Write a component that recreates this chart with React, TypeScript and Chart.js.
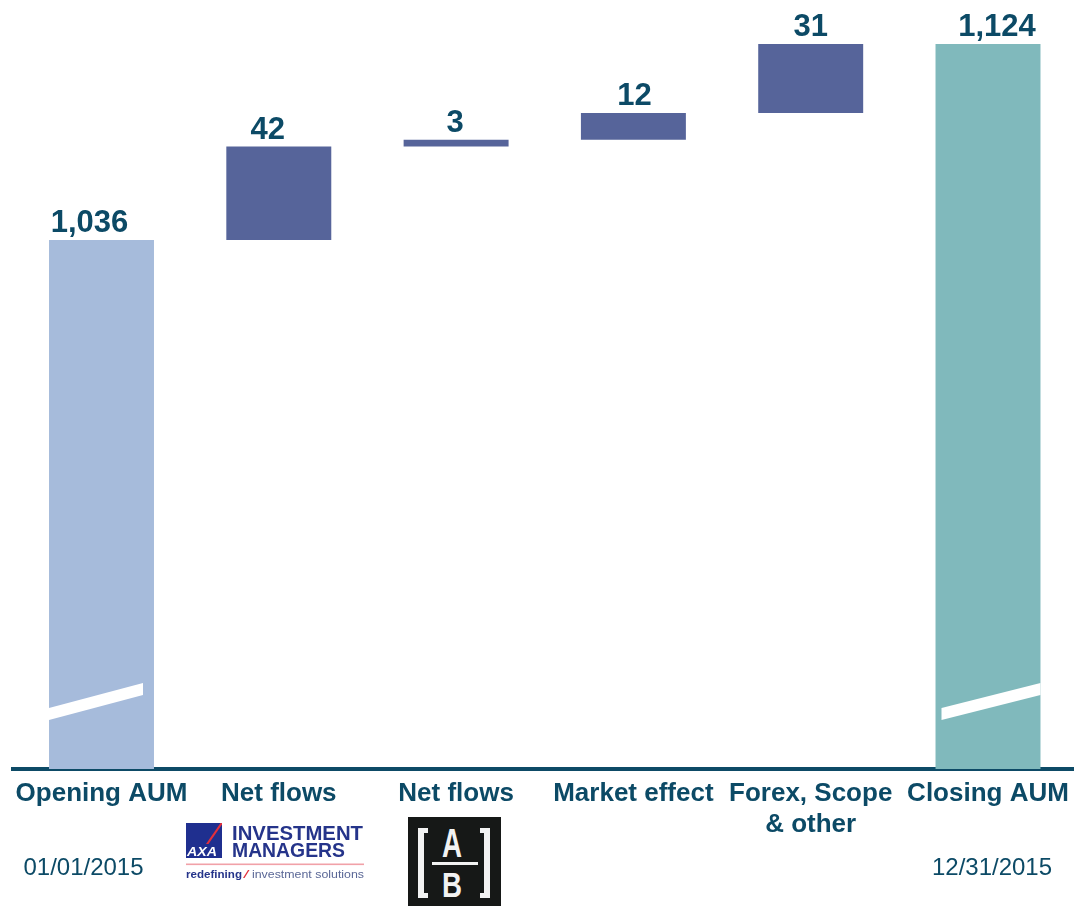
import React, { useEffect, useRef } from "react";
import { Chart, registerables } from "chart.js";

Chart.register(...registerables);

// ---------- data ----------
const categories: (string | string[])[] = [
  "Opening AUM",
  "Net flows",
  "Net flows",
  "Market effect",
  ["Forex, Scope", "& other"],
  "Closing AUM",
];
const values: number[] = [1036, 42, 3, 12, 31, 1124];
const kinds: string[] = ["total", "delta", "delta", "delta", "delta", "total"];
const dateLabels: (string | null)[] = ["01/01/2015", null, null, null, null, "12/31/2015"];
const axisMin = 798.5;
const axisMax = 1140.2;

// ---------- styles ----------
const FONT = '"Liberation Sans", Arial, Helvetica, sans-serif';
const TEXT = "#0c4a66";
const AXIS = "#0d4a66";
const barColors = ["#a6bbdb", "#56649a", "#56649a", "#56649a", "#56649a", "#80b9bc"];
const labelShift = [-12, -11, -1, 1, 0, 9];
const dateShift = [-18, 0, 0, 0, 0, 4];
const breakInset: [number, number][] = [[0, 11], [0, 0], [0, 0], [0, 0], [0, 0], [6, 0]];

// waterfall ranges built from the values
const ranges: [number, number][] = (() => {
  let running = 0;
  return values.map((v, i) => {
    if (kinds[i] === "total") {
      running = v;
      return [axisMin, v] as [number, number];
    }
    const start = running;
    running += v;
    return [start, running] as [number, number];
  });
})();

const decorPlugin = {
  id: "waterfallDecor",
  afterDatasetsDraw(chart: any) {
    const ctx = chart.ctx;
    const area = chart.chartArea;
    const meta = chart.getDatasetMeta(0);
    meta.data.forEach((el: any, i: number) => {
      const { x, y, base, width } = el.getProps(["x", "y", "base", "width"], true);
      const top = Math.min(y, base);
      if (kinds[i] === "total") {
        const left = x - width / 2 + breakInset[i][0];
        const right = x + width / 2 - breakInset[i][1];
        const b = area.bottom;
        ctx.save();
        ctx.fillStyle = "#ffffff";
        ctx.beginPath();
        ctx.moveTo(left, b - 49);
        ctx.lineTo(right, b - 74);
        ctx.lineTo(right, b - 86);
        ctx.lineTo(left, b - 61);
        ctx.closePath();
        ctx.fill();
        ctx.restore();
      }
      ctx.save();
      ctx.font = `bold 31px ${FONT}`;
      ctx.fillStyle = TEXT;
      ctx.textAlign = "center";
      ctx.textBaseline = "alphabetic";
      ctx.fillText(values[i].toLocaleString("en-US"), x + labelShift[i], top - 8);
      ctx.restore();
      const d = dateLabels[i];
      if (d) {
        ctx.save();
        ctx.font = `24px ${FONT}`;
        ctx.fillStyle = TEXT;
        ctx.textAlign = "center";
        ctx.textBaseline = "alphabetic";
        ctx.fillText(d, x + dateShift[i], area.bottom + 106);
        ctx.restore();
      }
    });
  },
};

function AxaLogo() {
  return (
    <svg
      style={{ position: "absolute", left: 184, top: 820, pointerEvents: "none" }}
      width={184}
      height={64}
      viewBox="0 0 184 64"
    >
      <rect x={2} y={3} width={36} height={35} fill="#1f2f8f" />
      <path d="M22 24 L36.5 3 L38 3 L38 4.5 L24.5 24 Z" fill="#e3303c" />
      <text
        x={3}
        y={36}
        fill="#ffffff"
        fontFamily={FONT}
        fontWeight="bold"
        fontStyle="italic"
        fontSize={13}
        textLength={30}
        lengthAdjust="spacingAndGlyphs"
      >
        AXA
      </text>
      <text
        x={48}
        y={20}
        fill="#25348a"
        fontFamily={FONT}
        fontWeight="bold"
        fontSize={19.5}
        textLength={131}
        lengthAdjust="spacingAndGlyphs"
      >
        INVESTMENT
      </text>
      <text
        x={48}
        y={37}
        fill="#25348a"
        fontFamily={FONT}
        fontWeight="bold"
        fontSize={19.5}
        textLength={113}
        lengthAdjust="spacingAndGlyphs"
      >
        MANAGERS
      </text>
      <rect x={2} y={43.5} width={178} height={1.6} fill="#f1a1a8" />
      <text
        x={2}
        y={58}
        fill="#25348a"
        fontFamily={FONT}
        fontWeight="bold"
        fontSize={11}
        textLength={56}
        lengthAdjust="spacingAndGlyphs"
      >
        redefining
      </text>
      <path d="M59 58 L64 50 L65.5 50 L60.5 58 Z" fill="#e3303c" />
      <text
        x={68}
        y={58}
        fill="#5a6796"
        fontFamily={FONT}
        fontSize={11}
        textLength={112}
        lengthAdjust="spacingAndGlyphs"
      >
        investment solutions
      </text>
    </svg>
  );
}

function AbLogo() {
  return (
    <svg
      style={{ position: "absolute", left: 408, top: 817, pointerEvents: "none" }}
      width={93}
      height={89}
      viewBox="0 0 93 89"
    >
      <rect x={0} y={0} width={93} height={89} fill="#161817" />
      <rect x={10} y={11} width={6} height={70} fill="#f2f2f2" />
      <rect x={10} y={11} width={10} height={5} fill="#f2f2f2" />
      <rect x={10} y={76} width={10} height={5} fill="#f2f2f2" />
      <rect x={76} y={11} width={6} height={70} fill="#f2f2f2" />
      <rect x={72} y={11} width={10} height={5} fill="#f2f2f2" />
      <rect x={72} y={76} width={10} height={5} fill="#f2f2f2" />
      <text
        x={34}
        y={40}
        fill="#f2f2f2"
        fontFamily={FONT}
        fontWeight="bold"
        fontSize={41}
        textLength={20}
        lengthAdjust="spacingAndGlyphs"
      >
        A
      </text>
      <rect x={24} y={45} width={46} height={3} fill="#f2f2f2" />
      <text
        x={34}
        y={80}
        fill="#f2f2f2"
        fontFamily={FONT}
        fontWeight="bold"
        fontSize={35}
        textLength={20}
        lengthAdjust="spacingAndGlyphs"
      >
        B
      </text>
    </svg>
  );
}

export default function App() {
  const canvasRef = useRef<HTMLCanvasElement | null>(null);

  useEffect(() => {
    if (!canvasRef.current) return;
    const chart = new Chart(canvasRef.current, {
      type: "bar",
      data: {
        labels: categories as any,
        datasets: [
          {
            data: ranges as any,
            backgroundColor: barColors,
            borderWidth: 0,
            barPercentage: 1,
            categoryPercentage: 0.592,
          },
        ],
      },
      options: {
        responsive: false,
        animation: false,
        devicePixelRatio: 1,
        layout: { padding: { left: 12.85, right: 13.35, top: 8, bottom: 0 } },
        plugins: {
          legend: { display: false },
          tooltip: { enabled: false },
        },
        scales: {
          x: {
            grid: { display: false, drawTicks: false },
            border: { display: true, color: AXIS, width: 4 },
            ticks: {
              color: TEXT,
              font: { family: FONT, size: 26, weight: "bold", lineHeight: 1.2 },
              padding: 9,
              autoSkip: false,
              maxRotation: 0,
              minRotation: 0,
            },
            afterFit: (scale: any) => {
              scale.height = 137;
            },
          },
          y: {
            display: false,
            min: axisMin,
            max: axisMax,
          },
        },
      },
      plugins: [decorPlugin],
    });
    return () => chart.destroy();
  }, []);

  return (
    <div
      style={{
        position: "absolute",
        left: 0,
        top: 0,
        width: 1074,
        height: 906,
        overflow: "hidden",
        background: "#ffffff",
      }}
    >
      <canvas
        ref={canvasRef}
        width={1090}
        height={906}
        style={{ position: "absolute", left: 0, top: 0, width: 1090, height: 906 }}
      />
      <AxaLogo />
      <AbLogo />
    </div>
  );
}
